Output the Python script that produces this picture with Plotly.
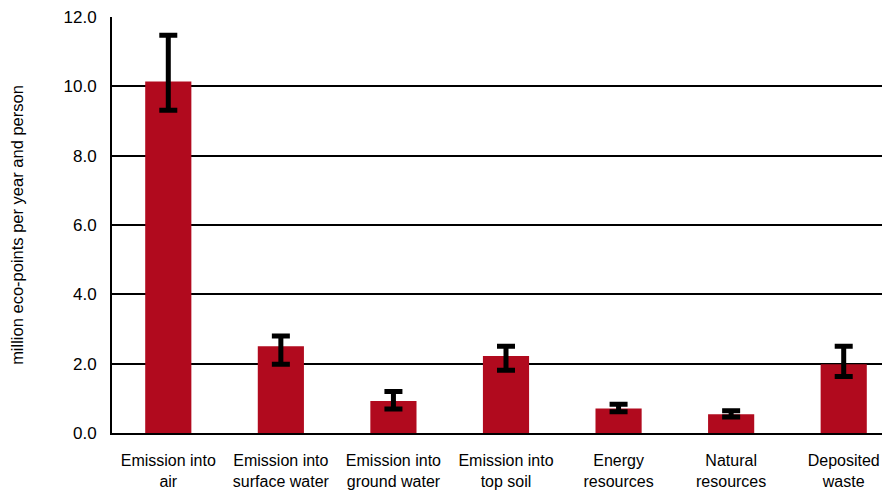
import plotly.graph_objects as go

categories = [
    "Emission into<br>air",
    "Emission into<br>surface water",
    "Emission into<br>ground water",
    "Emission into<br>top soil",
    "Energy<br>resources",
    "Natural<br>resources",
    "Deposited<br>waste",
]
values = [10.14, 2.50, 0.92, 2.22, 0.71, 0.54, 1.98]
err_high = [11.47, 2.80, 1.20, 2.50, 0.83, 0.64, 2.50]
err_low = [9.31, 1.98, 0.69, 1.81, 0.61, 0.46, 1.63]

err_plus = [h - v for h, v in zip(err_high, values)]
err_minus = [v - l for l, v in zip(err_low, values)]

fig = go.Figure(go.Bar(
    x=categories,
    y=values,
    marker=dict(color="#B10A1E", line=dict(width=0)),
    width=0.41,
    error_y=dict(
        type="data",
        symmetric=False,
        array=err_plus,
        arrayminus=err_minus,
        color="black",
        thickness=5,
        width=9,
    ),
))

# page has an 8px body margin, so margins are shifted to land the plot area in place
# (plot area runs slightly past the right edge of the window, as in the reference)
fig.update_layout(
    width=892,
    height=499,
    margin=dict(l=104, r=0, t=9, b=74),
    plot_bgcolor="white",
    paper_bgcolor="white",
    showlegend=False,
    font=dict(family="Liberation Sans, Arial, sans-serif", color="black"),
)

fig.update_xaxes(
    showline=True,
    linecolor="black",
    linewidth=2,
    ticks="",
    automargin=False,
    ticklabelstandoff=12,
    tickfont=dict(size=16),
)

fig.update_yaxes(
    range=[0, 12],
    dtick=2,
    tickformat=".1f",
    showline=True,
    linecolor="black",
    linewidth=2,
    showgrid=True,
    gridcolor="black",
    gridwidth=1.5,
    zeroline=False,
    ticks="",
    automargin=False,
    ticklabelstandoff=10,
    ticklabeloverflow="allow",
    tickfont=dict(size=17),
    title=dict(text="million eco-points per year and person", font=dict(size=16.5), standoff=46),
)

fig.write_html("out.html")
